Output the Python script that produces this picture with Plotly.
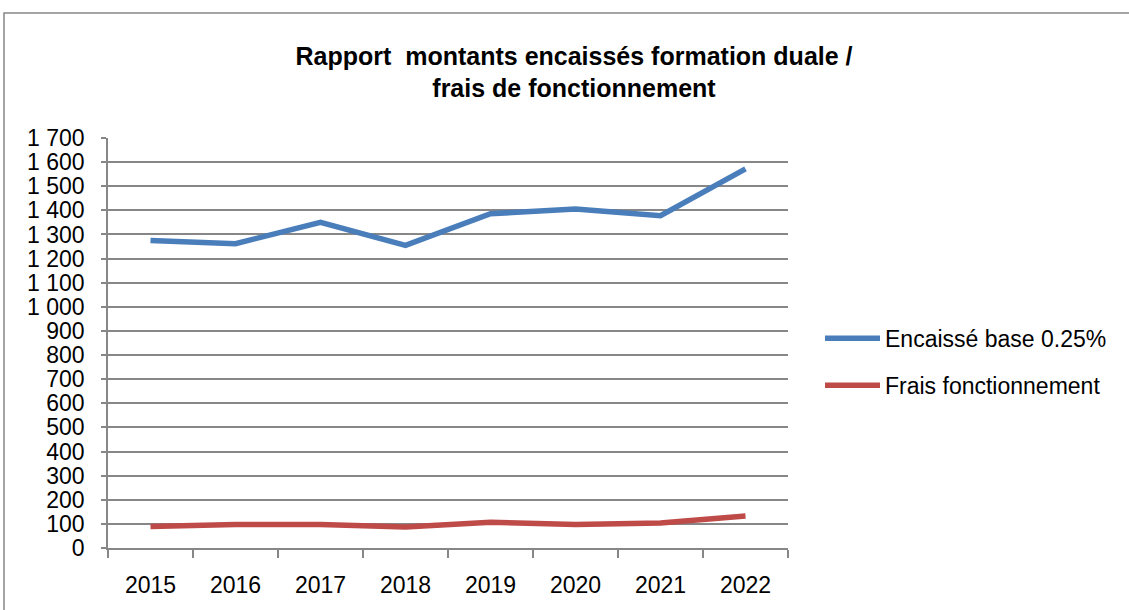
import plotly.graph_objects as go

years = ["2015", "2016", "2017", "2018", "2019", "2020", "2021", "2022"]
encaisse = [1275, 1262, 1350, 1255, 1386, 1406, 1378, 1572]
frais = [89, 97, 97, 87, 107, 97, 104, 133]
series_names = ["Encaissé base 0.25%", "Frais fonctionnement"]
colors = ["#4A7EBB", "#BE4B48"]
title_text = "<b>Rapport  montants encaissés formation duale /<br>frais de fonctionnement</b>"

W, H = 1129, 610
L, R, T, B = 108, 788, 138, 551

fig = go.Figure()
for name, vals, col, grp in zip(series_names, [encaisse, frais], colors, ["a", "b"]):
    fig.add_trace(go.Scatter(x=years, y=vals, mode="lines", name=name,
                             legendgroup=grp,
                             line=dict(color=col, width=5.5)))

def px_x(x):
    return (x - L) / (R - L)

def px_y(y):
    return (B - y) / (B - T)

FONT = "Liberation Sans, Arial, sans-serif"

fig.update_layout(
    width=W, height=H,
    margin=dict(l=L, r=W - R, t=T, b=H - B),
    paper_bgcolor="white", plot_bgcolor="white",
    separators=". ",
    font=dict(family=FONT, size=23, color="#000"),
    title=dict(text=title_text, x=px_x(574), xanchor="center", xref="paper",
               y=1 - 64.5 / H, yanchor="middle",
               font=dict(size=25, family=FONT)),
    showlegend=True,
    legend=dict(x=px_x(820), y=px_y(363.5), xanchor="left", yanchor="middle",
                traceorder="grouped", tracegroupgap=14, itemwidth=55,
                font=dict(size=23), bgcolor="rgba(0,0,0,0)"),
    xaxis=dict(type="category", showline=True, linecolor="#878787", linewidth=1.5,
               ticks="outside", ticklen=8, tickcolor="#878787", tickwidth=1.5,
               tickson="boundaries", showgrid=False, ticklabelstandoff=16,
               tickfont=dict(size=23), range=[-0.5, 7.5]),
    yaxis=dict(range=[0, 1700], dtick=100, tickformat=",d", showline=True,
               linecolor="#878787", linewidth=1.5, ticks="outside", ticklen=5,
               tickcolor="#878787", tickwidth=1.5, showgrid=True,
               gridcolor="#878787", gridwidth=1.5, zeroline=False,
               tickfont=dict(size=23), ticklabelstandoff=12),
    shapes=[dict(type="rect", xref="paper", yref="paper",
                 x0=px_x(4), x1=px_x(1140), y0=px_y(630), y1=px_y(12),
                 line=dict(color="#878787", width=1.5), layer="below")],
)

fig.write_html("out.html",
               config={"displayModeBar": False},
               post_script="document.body.style.margin='0px';document.body.style.overflow='hidden';")
